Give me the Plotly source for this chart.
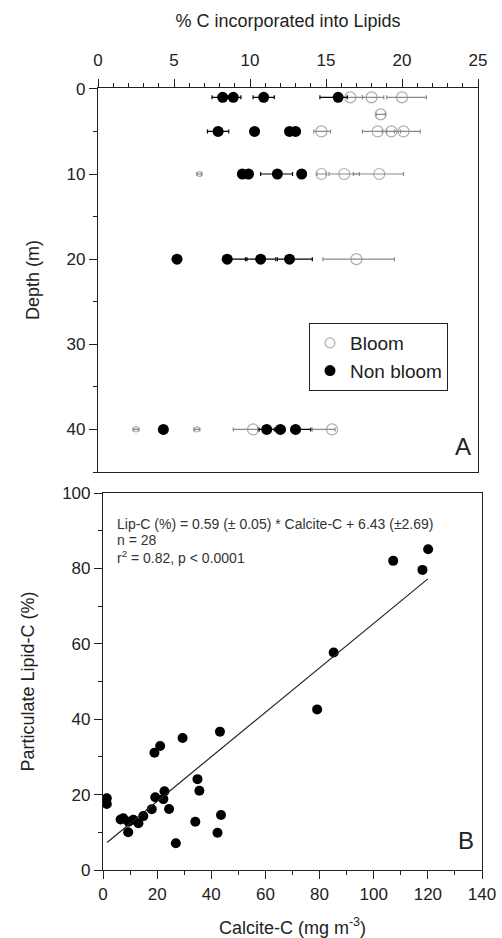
import plotly.graph_objects as go

# ---- Panel A data: % C incorporated into lipids vs depth ----
nb_depth = [1, 1, 1, 1, 5, 5, 5, 5, 10, 10, 10, 10, 20, 20, 20, 20, 40, 40, 40, 40]
nb_pct = [8.2, 8.9, 10.9, 15.8, 7.9, 10.3, 12.6, 13.0, 9.5, 9.9, 11.8, 13.4,
          5.2, 8.5, 10.7, 12.6, 4.3, 11.1, 12.0, 13.0]
nb_err_minus = [0.7, 0.3, 0.7, 1.2, 0.7, 0.0, 0.2, 0.2, 0.2, 0.1, 1.1, 0.2,
                0.3, 0.3, 1.0, 0.8, 0.0, 0.5, 0.3, 0.3]
nb_err_plus = [0.3, 0.5, 0.7, 0.6, 0.7, 0.0, 0.2, 0.2, 0.2, 0.1, 1.0, 0.2,
               0.2, 1.3, 1.0, 1.5, 0.0, 0.5, 0.3, 1.0]

bl_depth = [1, 1, 1, 3, 5, 5, 5, 5, 10, 10, 10, 10, 20, 40, 40, 40, 40]
bl_pct = [16.6, 18.0, 20.0, 18.6, 14.7, 18.4, 19.3, 20.1, 6.7, 14.7, 16.2, 18.5,
          17.0, 2.5, 6.5, 10.2, 15.4]
bl_err_minus = [0.8, 0.6, 1.0, 0.3, 0.5, 1.0, 0.6, 0.6, 0.2, 0.3, 1.0, 1.7,
                2.2, 0.2, 0.2, 1.3, 1.3]
bl_err_plus = [0.8, 0.8, 1.6, 0.3, 0.6, 0.6, 0.6, 1.1, 0.1, 0.3, 1.0, 1.6,
               2.5, 0.2, 0.2, 0.3, 0.2]

# ---- Panel B data: particulate lipid-C vs calcite-C ----
calcite_c = [1.4, 1.4, 6.5, 7.5, 9.4, 9.3, 11.2, 13.1, 14.9, 18.0, 19.0, 21.1,
             19.3, 22.3, 22.7, 24.4, 26.9, 29.4, 34.9, 35.6, 34.1, 42.3, 43.6,
             43.2, 79.1, 85.2, 107.2, 120.1, 118.0]
lipid_c = [19.0, 17.5, 13.4, 13.7, 12.8, 10.0, 13.3, 12.4, 14.3, 16.1, 31.1, 32.9,
           19.3, 18.8, 20.9, 16.2, 7.1, 35.0, 24.1, 21.0, 12.8, 9.9, 14.6,
           36.7, 42.6, 57.7, 82.0, 85.1, 79.6]
fit_slope = 0.59
fit_intercept = 6.43
fit_x = [1.5, 120.0]

FONT = "Liberation Sans, Arial, sans-serif"
INK = "#222222"

fig = go.Figure()

bl_sizes = [5 if p < 7 else 11 for p in bl_pct]
fig.add_trace(go.Scatter(
    x=bl_pct, y=bl_depth, mode="markers", name="Bloom",
    marker=dict(symbol="circle-open", size=bl_sizes, color="#8a8a8a",
                line=dict(width=1.2, color="#8a8a8a")),
    error_x=dict(type="data", symmetric=False, array=bl_err_plus,
                 arrayminus=bl_err_minus, color="#8a8a8a", thickness=1.2, width=2),
    xaxis="x", yaxis="y"))
fig.add_trace(go.Scatter(
    x=nb_pct, y=nb_depth, mode="markers", name="Non bloom",
    marker=dict(symbol="circle", size=11, color="black"),
    error_x=dict(type="data", symmetric=False, array=nb_err_plus,
                 arrayminus=nb_err_minus, color="black", thickness=1.2, width=2),
    xaxis="x", yaxis="y"))

fig.add_trace(go.Scatter(
    x=calcite_c, y=lipid_c, mode="markers", showlegend=False,
    marker=dict(symbol="circle", size=10, color="black"),
    xaxis="x2", yaxis="y2"))
fig.add_trace(go.Scatter(
    x=fit_x, y=[fit_slope * v + fit_intercept for v in fit_x], mode="lines",
    showlegend=False, line=dict(color=INK, width=1.2),
    xaxis="x2", yaxis="y2"))

W, H = 502, 938
axis_common = dict(showline=True, linecolor=INK, linewidth=1.2, mirror=True,
                   showgrid=False, zeroline=False, ticks="outside", ticklen=8,
                   tickwidth=1, tickcolor=INK, automargin=False,
                   tickfont=dict(size=17, color=INK, family=FONT))

fig.update_layout(
    width=W, height=H,
    margin=dict(l=0, r=0, t=0, b=0),
    paper_bgcolor="white", plot_bgcolor="white",
    font=dict(family=FONT, color=INK),
    xaxis=dict(**axis_common, domain=[98 / W, 478 / W], anchor="y", side="top",
               range=[0, 25], dtick=5, ticklabelstandoff=6,
               minor=dict(dtick=1, ticks="outside", ticklen=4, tickcolor=INK),
               title=dict(text="% C incorporated into Lipids",
                          font=dict(size=18, color=INK), standoff=18)),
    yaxis=dict(**axis_common, domain=[1 - 472 / H, 1 - 88 / H], anchor="x",
               range=[45, -0.1], dtick=10,
               minor=dict(dtick=5, ticks="outside", ticklen=4, tickcolor=INK),
               title=dict(text="Depth (m)", font=dict(size=18, color=INK), standoff=22)),
    xaxis2=dict(**axis_common, domain=[103 / W, 482 / W], anchor="y2",
                range=[0, 140], dtick=20,
                minor=dict(dtick=10, ticks="outside", ticklen=4, tickcolor=INK),
                title=dict(text="Calcite-C (mg m<sup>-3</sup>)",
                           font=dict(size=18, color=INK), standoff=20)),
    yaxis2=dict(**axis_common, domain=[1 - 870 / H, 1 - 493 / H], anchor="x2",
                range=[0, 100], dtick=20,
                minor=dict(dtick=10, ticks="outside", ticklen=4, tickcolor=INK),
                title=dict(text="Particulate Lipid-C (%)",
                           font=dict(size=18, color=INK), standoff=22)),
    legend=dict(x=309 / W, y=1 - 323 / H, xanchor="left", yanchor="top",
                bordercolor=INK, borderwidth=1, bgcolor="white",
                font=dict(size=19, color=INK, family=FONT),
                itemwidth=30, tracegroupgap=0),
)

ann_font = dict(size=14, color="#333333", family=FONT)
fig.add_annotation(x=115 / W, y=1 - 524 / H, xref="paper", yref="paper",
                   xanchor="left", yanchor="middle", showarrow=False, font=ann_font,
                   text="Lip-C (%) = 0.59 (± 0.05) * Calcite-C + 6.43 (±2.69)")
fig.add_annotation(x=115 / W, y=1 - 540 / H, xref="paper", yref="paper",
                   xanchor="left", yanchor="middle", showarrow=False, font=ann_font,
                   text="n = 28")
fig.add_annotation(x=115 / W, y=1 - 557 / H, xref="paper", yref="paper",
                   xanchor="left", yanchor="middle", showarrow=False, font=ann_font,
                   text="r<sup>2</sup> = 0.82, p &lt; 0.0001")
fig.add_annotation(x=473 / W, y=1 - 447 / H, xref="paper", yref="paper",
                   xanchor="right", yanchor="middle", showarrow=False,
                   font=dict(size=24, color=INK, family=FONT), text="A")
fig.add_annotation(x=476 / W, y=1 - 840 / H, xref="paper", yref="paper",
                   xanchor="right", yanchor="middle", showarrow=False,
                   font=dict(size=24, color=INK, family=FONT), text="B")

fig.write_html("out.html")
